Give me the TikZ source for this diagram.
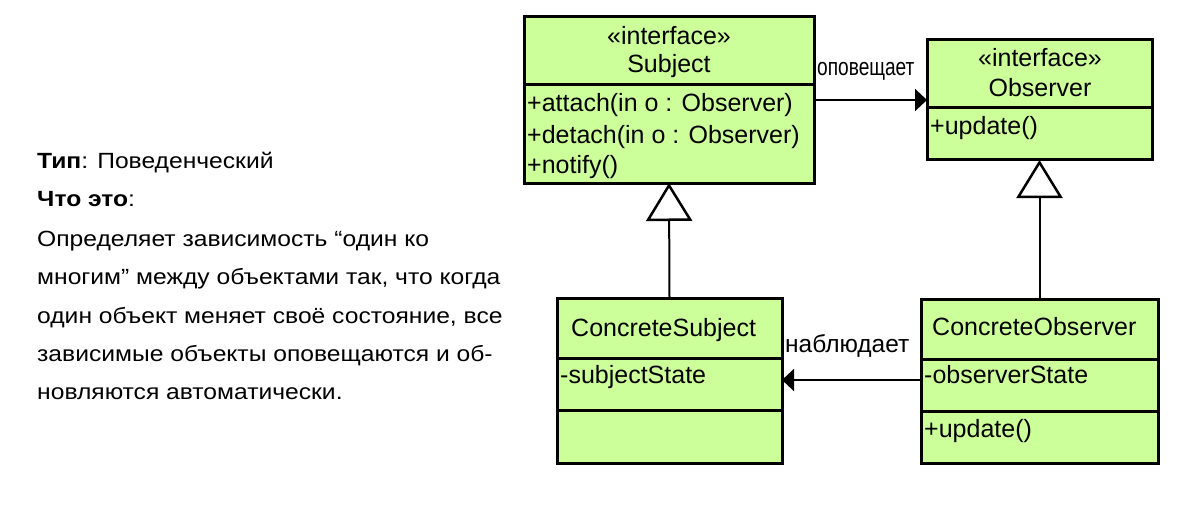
\documentclass[tikz,border=0pt]{standalone}
\usepackage{fontspec}
\usepackage{graphicx}
\setmainfont{Liberation Sans}
\usetikzlibrary{arrows.meta}
\definecolor{umlgreen}{RGB}{204,255,153}
\newcommand{\descline}[1]{\scalebox{1.12}[1]{#1}}
\begin{document}
\begin{tikzpicture}[x=1pt,y=-1pt,
  box/.style={draw=black, line width=3pt, fill=umlgreen, anchor=north west, inner sep=0pt, outer sep=0pt},
  divider/.style={line width=3pt},
  txt/.style={anchor=base west, inner sep=0pt, font=\fontsize{25}{30}\selectfont},
  ctxt/.style={anchor=base, inner sep=0pt, font=\fontsize{25}{30}\selectfont},
  lbl/.style={anchor=base west, inner sep=0pt, font=\fontsize{24.5}{28}\selectfont},
  desc/.style={anchor=base west, inner sep=0pt, font=\fontsize{22}{26}\selectfont},
  assoc/.style={line width=2pt, -{Triangle[length=12pt,width=22pt]}},
  gen/.style={line width=2pt, -{Triangle[open,length=38pt,width=46pt,line width=2.5pt]}},
]
\useasboundingbox (0,0) rectangle (1197,508);
\fill[white] (0,0) rectangle (1197,508);

% description
\node[desc] (d1) at (37,168) {\descline{\textbf{Тип}: Поведенческий}};
\node[desc] (d2) at (37,206) {\descline{\textbf{Что это}:}};
\node[desc] (d3) at (37,246) {\descline{Определяет зависимость “один ко}};
\node[desc] (d4) at (37,284) {\descline{многим” между объектами так, что когда}};
\node[desc] (d5) at (37,323) {\descline{один объект меняет своё состояние, все}};
\node[desc] (d6) at (37,361) {\descline{зависимые объекты оповещаются и об-}};
\node[desc] (d7) at (37,399) {\descline{новляются автоматически.}};

% Subject
\node[box, minimum width=290pt, minimum height=166pt] (subj) at (524,17) {};
\draw[divider] (subj.west |- 0,85) -- (subj.east |- 0,85);
\node[ctxt] (subjst) at (669,45) {«interface»};
\node[ctxt] (subjn) at (669,73) {Subject};
\node[txt] (subja) at (527,112) {+attach(in o : Observer)};
\node[txt] (subjd) at (527,143) {+detach(in o : Observer)};
\node[txt] (subjo) at (527,173) {+notify()};

% Observer
\node[box, minimum width=225pt, minimum height=120pt] (obs) at (927,40) {};
\draw[divider] (obs.west |- 0,108) -- (obs.east |- 0,108);
\node[ctxt] (obsst) at (1040,67) {«interface»};
\node[ctxt] (obsn) at (1040,97) {Observer};
\node[txt] (obsu) at (930,135) {+update()};

% ConcreteSubject
\node[box, minimum width=225pt, minimum height=165pt] (csub) at (557,298) {};
\draw[divider] (csub.west |- 0,358) -- (csub.east |- 0,358);
\draw[divider] (csub.west |- 0,410) -- (csub.east |- 0,410);
\node[txt] (csubn) at (571,336) {ConcreteSubject};
\node[txt] (csubs) at (560,383) {-subjectState};

% ConcreteObserver
\node[box, minimum width=237pt, minimum height=164pt] (cobs) at (921,299) {};
\draw[divider] (cobs.west |- 0,359) -- (cobs.east |- 0,359);
\draw[divider] (cobs.west |- 0,411) -- (cobs.east |- 0,411);
\node[txt] (cobsn) at (932,335) {ConcreteObserver};
\node[txt] (cobss) at (924,383) {-observerState};
\node[txt] (cobsu) at (924,437) {+update()};

% connectors
\draw[assoc] (subj.east |- 0,100) -- (obs.west |- 0,100);
\node[lbl] (lnotify) at (817,76) {\scalebox{0.78}[1]{оповещает}};
\draw[assoc] (cobs.west |- 0,380) -- (csub.east |- 0,380);
\node[lbl] (lobserve) at (785,352) {наблюдает};
\draw[gen] (csub.north) -- (subj.south);
\draw[gen] (cobs.north) -- (obs.south);
\end{tikzpicture}
\end{document}
